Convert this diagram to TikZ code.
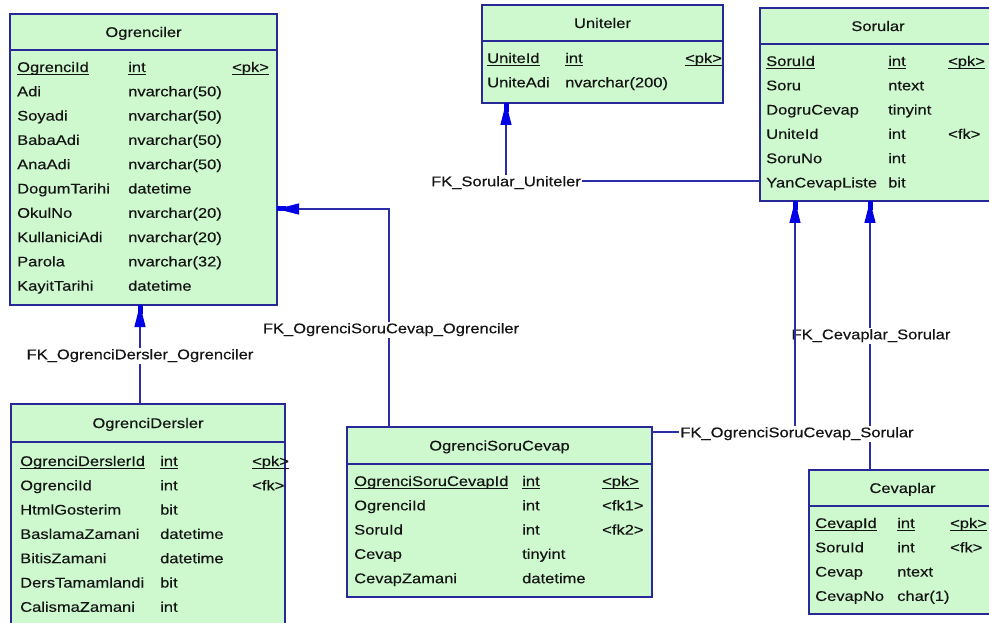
\documentclass[tikz,border=0pt]{standalone}
\usepackage{fontspec}
\setmainfont{Liberation Sans}[FakeStretch=1.18,FakeBold=0.3]
\usetikzlibrary{arrows.meta}
\definecolor{tblfill}{RGB}{206,248,206}
\definecolor{tblline}{RGB}{40,40,150}
\definecolor{conline}{RGB}{45,45,170}
\definecolor{tipblue}{RGB}{0,0,230}
\definecolor{txt}{RGB}{20,20,20}
\newcommand\pkul[1]{\setbox0=\hbox{#1}\rlap{\rule[-3pt]{\wd0}{0.9pt}}\box0}
\newcommand\errow[5]{%
  \node[cell] (#1n) at (\nx,{#2}) {#3};
  \node[cell] (#1t) at (\tx,{#2}) {#4};
  \node[cell] (#1k) at (\kx,{#2}) {#5};}
\tikzset{
  tbl/.style={draw=tblline, fill=tblfill, line width=1.4pt, anchor=north west, inner sep=0pt, outer sep=0pt},
  tblsep/.style={draw=tblline, line width=1.4pt},
  cell/.style={anchor=west, inner sep=0pt, text height=10pt, text depth=0pt, text=txt},
  ttl/.style={anchor=center, inner sep=0pt, text height=10pt, text depth=0pt, text=txt},
  fklabel/.style={fill=white, inner sep=1.5pt, text height=10pt, text depth=3.5pt, text=txt},
  fk/.style={draw=conline, line width=1.2pt,
    -{Triangle[length=22pt,width=11pt,sep=-9pt,color=tipblue]Rectangle[length=9pt,width=5pt,color=tipblue]}}
}
\begin{document}
\begin{tikzpicture}[x=1pt, y=-1pt, font=\fontsize{14}{16}\selectfont]
\useasboundingbox (0,0) rectangle (989,623);
\clip (0,0) rectangle (989,623);
\fill[white] (0,0) rectangle (989,623);

% ---------- Ogrenciler ----------
\node[tbl, minimum width=267pt, minimum height=291pt] (ogr) at (10,14) {};
\draw[tblsep] ([yshift=-36pt]ogr.north west) -- ([yshift=-36pt]ogr.north east);
\node[ttl] (ogrT) at ([yshift=-18pt]ogr.north) {Ogrenciler};
\def\nx{17}\def\tx{128}\def\kx{232}
\errow{ogr1}{67}{\pkul{OgrenciId}}{\pkul{int}}{\pkul{<pk>}}
\errow{ogr2}{67+1*24.3}{Adi}{nvarchar(50)}{}
\errow{ogr3}{67+2*24.3}{Soyadi}{nvarchar(50)}{}
\errow{ogr4}{67+3*24.3}{BabaAdi}{nvarchar(50)}{}
\errow{ogr5}{67+4*24.3}{AnaAdi}{nvarchar(50)}{}
\errow{ogr6}{67+5*24.3}{DogumTarihi}{datetime}{}
\errow{ogr7}{67+6*24.3}{OkulNo}{nvarchar(20)}{}
\errow{ogr8}{67+7*24.3}{KullaniciAdi}{nvarchar(20)}{}
\errow{ogr9}{67+8*24.3}{Parola}{nvarchar(32)}{}
\errow{ogr10}{67+9*24.3}{KayitTarihi}{datetime}{}

% ---------- Uniteler ----------
\node[tbl, minimum width=241pt, minimum height=98pt] (uni) at (482,5) {};
\draw[tblsep] ([yshift=-36pt]uni.north west) -- ([yshift=-36pt]uni.north east);
\node[ttl] (uniT) at ([yshift=-18pt]uni.north) {Uniteler};
\def\nx{487}\def\tx{565}\def\kx{685}
\errow{uni1}{58}{\pkul{UniteId}}{\pkul{int}}{\pkul{<pk>}}
\errow{uni2}{58+24.3}{UniteAdi}{nvarchar(200)}{}

% ---------- Sorular ----------
\node[tbl, minimum width=236pt, minimum height=193pt] (sor) at (760,8) {};
\draw[tblsep] ([yshift=-36pt]sor.north west) -- ([yshift=-36pt]sor.north east);
\node[ttl] (sorT) at ([yshift=-18pt]sor.north) {Sorular};
\def\nx{766}\def\tx{888}\def\kx{948}
\errow{sor1}{61}{\pkul{SoruId}}{\pkul{int}}{\pkul{<pk>}}
\errow{sor2}{61+1*24.3}{Soru}{ntext}{}
\errow{sor3}{61+2*24.3}{DogruCevap}{tinyint}{}
\errow{sor4}{61+3*24.3}{UniteId}{int}{<fk>}
\errow{sor5}{61+4*24.3}{SoruNo}{int}{}
\errow{sor6}{61+5*24.3}{YanCevapListe}{bit}{}

% ---------- OgrenciDersler ----------
\node[tbl, minimum width=274pt, minimum height=222pt] (od) at (11,404) {};
\draw[tblsep] ([yshift=-38pt]od.north west) -- ([yshift=-38pt]od.north east);
\node[ttl] (odT) at ([yshift=-19pt]od.north) {OgrenciDersler};
\def\nx{20}\def\tx{160}\def\kx{252}
\errow{od1}{461}{\pkul{OgrenciDerslerId}}{\pkul{int}}{\pkul{<pk>}}
\errow{od2}{461+1*24.3}{OgrenciId}{int}{<fk>}
\errow{od3}{461+2*24.3}{HtmlGosterim}{bit}{}
\errow{od4}{461+3*24.3}{BaslamaZamani}{datetime}{}
\errow{od5}{461+4*24.3}{BitisZamani}{datetime}{}
\errow{od6}{461+5*24.3}{DersTamamlandi}{bit}{}
\errow{od7}{461+6*24.3}{CalismaZamani}{int}{}

% ---------- OgrenciSoruCevap ----------
\node[tbl, minimum width=305pt, minimum height=170pt] (osc) at (347,427) {};
\draw[tblsep] ([yshift=-37pt]osc.north west) -- ([yshift=-37pt]osc.north east);
\node[ttl] (oscT) at ([yshift=-18.5pt]osc.north) {OgrenciSoruCevap};
\def\nx{354}\def\tx{522}\def\kx{602}
\errow{osc1}{481}{\pkul{OgrenciSoruCevapId}}{\pkul{int}}{\pkul{<pk>}}
\errow{osc2}{481+1*24.3}{OgrenciId}{int}{<fk1>}
\errow{osc3}{481+2*24.3}{SoruId}{int}{<fk2>}
\errow{osc4}{481+3*24.3}{Cevap}{tinyint}{}
\errow{osc5}{481+4*24.3}{CevapZamani}{datetime}{}

% ---------- Cevaplar ----------
\node[tbl, minimum width=187pt, minimum height=144pt] (cev) at (809,470) {};
\draw[tblsep] ([yshift=-36pt]cev.north west) -- ([yshift=-36pt]cev.north east);
\node[ttl] (cevT) at ([yshift=-18pt]cev.north) {Cevaplar};
\def\nx{815}\def\tx{897}\def\kx{950}
\errow{cev1}{523}{\pkul{CevapId}}{\pkul{int}}{\pkul{<pk>}}
\errow{cev2}{523+1*24.3}{SoruId}{int}{<fk>}
\errow{cev3}{523+2*24.3}{Cevap}{ntext}{}
\errow{cev4}{523+3*24.3}{CevapNo}{char(1)}{}

% ---------- connectors ----------
\coordinate (c1) at (140,0);
\coordinate (b1) at (389,209);
\coordinate (b2) at (506,181);
\coordinate (b3) at (795,432);
\coordinate (c5) at (870,0);

\draw[fk] (od.north -| c1) -- (ogr.south -| c1);
\node[fklabel] (l1) at (140,356) {FK\_OgrenciDersler\_Ogrenciler};

\draw[fk] (osc.north -| b1) -- (b1) -- (ogr.east |- b1);
\node[fklabel] (l2) at (391,330) {FK\_OgrenciSoruCevap\_Ogrenciler};

\draw[fk] (sor.west |- b2) -- (b2) -- (uni.south -| b2);
\node[fklabel] (l3) at (506,183) {FK\_Sorular\_Uniteler};

\draw[fk] (cev.north -| c5) -- (sor.south -| c5);
\node[fklabel] (l5) at (871,336) {FK\_Cevaplar\_Sorular};

\draw[fk] (osc.east |- b3) -- (b3) -- (sor.south -| b3);
\node[fklabel] (l4) at (797,434) {FK\_OgrenciSoruCevap\_Sorular};
\end{tikzpicture}
\end{document}
